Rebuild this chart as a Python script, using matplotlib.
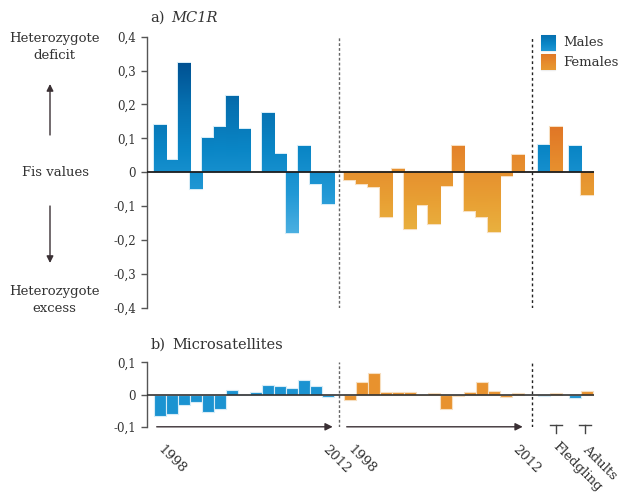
import numpy as np
import matplotlib
matplotlib.use("Agg")
import matplotlib.pyplot as plt
from matplotlib.colors import LinearSegmentedColormap

# ---------------- data ----------------
years = list(range(1998, 2013))
age_groups = ["Fledgling", "Adults"]

mc1r_males = [0.140, 0.035, 0.323, -0.050, 0.100, 0.133, 0.224, 0.128, 0.0,
              0.176, 0.053, -0.180, 0.078, -0.035, -0.093]
mc1r_females = [-0.024, -0.035, -0.043, -0.133, 0.009, -0.168, -0.096, -0.153,
                -0.041, 0.078, -0.115, -0.131, -0.176, -0.012, 0.052]
mc1r_age_males = [0.079, 0.077]
mc1r_age_females = [0.132, -0.068]

msat_males = [-0.066, -0.062, -0.034, -0.023, -0.055, -0.044, 0.015, 0.003,
              0.009, 0.028, 0.026, 0.021, 0.045, 0.026, -0.007]
msat_females = [-0.018, 0.039, 0.066, 0.007, 0.008, 0.007, 0.0, 0.006,
                -0.044, -0.006, 0.009, 0.039, 0.012, -0.009, 0.006]
msat_age_males = [-0.004, -0.010]
msat_age_females = [0.004, 0.010]

top_ticks = [0.4, 0.3, 0.2, 0.1, 0.0, -0.1, -0.2, -0.3, -0.4]
top_ticklabels = ["0,4", "0,3", "0,2", "0,1", "0", "-0,1", "-0,2", "-0,3", "-0,4"]
bot_ticks = [0.1, 0.0, -0.1]
bot_ticklabels = ["0,1", "0", "-0,1"]

# ---------------- layout ----------------
W, H, DPI = 619, 497, 100
FONT = "DejaVu Serif"
TXT = "#333333"
plt.rcParams["font.family"] = FONT

fig = plt.figure(figsize=(W / DPI, H / DPI), dpi=DPI)

def fig_rect(left, top, right, bottom):
    return [left / W, 1 - bottom / H, (right - left) / W, (bottom - top) / H]

ax1 = fig.add_axes(fig_rect(147, 36.7, 600, 307.7))
ax2 = fig.add_axes(fig_rect(147, 362.3, 600, 426.7))
ov = fig.add_axes([0, 0, 1, 1], zorder=10)
ov.axis("off")

XL = (-0.108, 37.64)
x_m = np.arange(15) + 1.0
x_f = np.arange(15) + 16.83
x_age_m = np.array([32.95, 35.58])
x_age_f = x_age_m + 1.0
sep1, sep2 = 15.9, 32.0

blue_cmap = LinearSegmentedColormap.from_list(
    "b", ["#52b3e3", "#2299d6", "#0a86c6", "#0670b0", "#004f90"])
orange_cmap = LinearSegmentedColormap.from_list(
    "o", ["#e9b542", "#e8a034", "#e68c2d", "#e07526"])
BLUE_RANGE = (-0.2, 0.33)
ORANGE_RANGE = (-0.2, 0.14)


def grad_bars(ax, x, vals, cmap, crange, edge):
    bars = ax.bar(x, vals, width=1.0, color="none", edgecolor=edge,
                  linewidth=1.5, zorder=2)
    grad = np.linspace(0.42, -0.42, 400).reshape(-1, 1)
    for b in bars:
        if b.get_height() == 0:
            b.set_visible(False)
            continue
        x0, w = b.get_x(), b.get_width()
        im = ax.imshow(grad, cmap=cmap, vmin=crange[0], vmax=crange[1],
                       extent=(x0, x0 + w, -0.42, 0.42), aspect="auto",
                       zorder=3, interpolation="bilinear")
        im.set_clip_path(b)
    return bars


# ---------------- panel a ----------------
grad_bars(ax1, x_m, mc1r_males, blue_cmap, BLUE_RANGE, "#d6ecf7")
grad_bars(ax1, x_f, mc1r_females, orange_cmap, ORANGE_RANGE, "#f7dfc0")
grad_bars(ax1, x_age_m, mc1r_age_males, blue_cmap, BLUE_RANGE, "#d6ecf7")
grad_bars(ax1, x_age_f, mc1r_age_females, orange_cmap, ORANGE_RANGE, "#f7dfc0")
ax1.hlines(0, XL[0], 37.1, color="#1e1e1e", lw=1.3, zorder=6)
ax1.set_xlim(*XL)
ax1.set_ylim(-0.4, 0.4)
ax1.set_yticks(top_ticks)
ax1.set_yticklabels(top_ticklabels)

# ---------------- panel b ----------------
ax2.bar(x_m, msat_males, width=1.0, color="#1b93d1", edgecolor="#d6ecf7",
        linewidth=0.8, zorder=3)
ax2.bar(x_f, msat_females, width=1.0, color="#e8922e", edgecolor="#f7dfc0",
        linewidth=0.8, zorder=3)
ax2.bar(x_age_m, msat_age_males, width=1.0, color="#1b93d1",
        edgecolor="#d6ecf7", linewidth=0.8, zorder=3)
ax2.bar(x_age_f, msat_age_females, width=1.0, color="#e8922e",
        edgecolor="#f7dfc0", linewidth=0.8, zorder=3)
ax2.hlines(0, XL[0], 37.1, color="#333333", lw=1.2, zorder=6)
ax2.set_xlim(*XL)
ax2.set_ylim(-0.1, 0.1)
ax2.set_yticks(bot_ticks)
ax2.set_yticklabels(bot_ticklabels)

for ax in (ax1, ax2):
    for s in ("top", "right", "bottom"):
        ax.spines[s].set_visible(False)
    ax.spines["left"].set_color("#555555")
    ax.spines["left"].set_linewidth(1.0)
    ax.set_xticks([])
    ax.tick_params(axis="y", length=4, width=1.0, color="#555555",
                   labelsize=8.5, labelcolor=TXT, pad=4)
    ax.patch.set_alpha(0)
    ax.axvline(sep1, color="#666666", lw=1.0, ls=(0, (2, 1.5)), zorder=1)
    ax.axvline(sep2, color="#222222", lw=1.0, ls=(0, (2, 2)), zorder=1)

# ---------------- overlay annotations ----------------
# legend
for (y0, label, cm, crange, top) in ((35, "Males", blue_cmap, BLUE_RANGE, 0.2),
                                     (54.3, "Females", orange_cmap, ORANGE_RANGE, 0.12)):
    r = plt.Rectangle((540.7, y0), 14.6, 15.7, facecolor="none",
                      edgecolor="#eeeeee", lw=1.0, zorder=2)
    ov.add_patch(r)
    g = np.linspace(top, -0.05, 64).reshape(-1, 1)
    im = ov.imshow(g, cmap=cm, vmin=crange[0], vmax=crange[1],
                   extent=(540.7, 555.3, y0 + 15.7, y0), aspect="auto",
                   zorder=3, interpolation="bilinear")
    im.set_clip_path(r)
    ov.text(563, y0 + 8, label, fontsize=9.5, color=TXT, ha="left",
            va="center")
ov.set_xlim(0, W)
ov.set_ylim(H, 0)

# panel titles
ov.text(150, 18, "a)", fontsize=10.5, color=TXT, ha="left", va="center")
ov.text(171, 18, "MC1R", fontsize=10.5, color=TXT, ha="left", va="center",
        style="italic")
ov.text(151, 345, "b)", fontsize=10.5, color=TXT, ha="left", va="center")
ov.text(172, 345, "Microsatellites", fontsize=10.5, color=TXT, ha="left",
        va="center")

# left side labels
ov.text(54, 47, "Heterozygote\ndeficit", fontsize=9.5, color=TXT,
        ha="center", va="center", linespacing=1.4)
ov.text(55, 173, "Fis values", fontsize=9.5, color=TXT, ha="center",
        va="center")
ov.text(54, 300, "Heterozygote\nexcess", fontsize=9.5, color=TXT,
        ha="center", va="center", linespacing=1.4)
ov.annotate("", xy=(50, 84), xytext=(50, 135),
            arrowprops=dict(arrowstyle="-|>", color="#3a3034", lw=1.0,
                            mutation_scale=10, shrinkA=0, shrinkB=0))
ov.annotate("", xy=(50, 263), xytext=(50, 206),
            arrowprops=dict(arrowstyle="-|>", color="#3a3034", lw=1.0,
                            mutation_scale=10, shrinkA=0, shrinkB=0))

# time arrows
for (xa, xb) in ((156.7, 332.7), (346.7, 522.7)):
    ov.annotate("", xy=(xb, 426.8), xytext=(xa, 426.8),
                arrowprops=dict(arrowstyle="-|>", color="#3a3034", lw=1.0,
                                mutation_scale=11, shrinkA=0, shrinkB=0))
# T marks for age groups
for xc in (555.7, 585.0):
    ov.plot([xc - 6, xc + 6], [425, 425], color="#444444", lw=1.0)
    ov.plot([xc, xc], [425, 433], color="#444444", lw=1.0)

# rotated labels
rot_labels = [(155, 443, str(years[0])), (320, 443, str(years[-1])),
              (345, 443, str(years[0])), (510, 443, str(years[-1])),
              (550, 440, age_groups[0]), (580, 443, age_groups[1])]
for (px, py, s) in rot_labels:
    ov.text(px, py, s, rotation=-45, ha="left", va="top", fontsize=9.5,
            color=TXT)

fig.savefig("out.png", dpi=DPI)
